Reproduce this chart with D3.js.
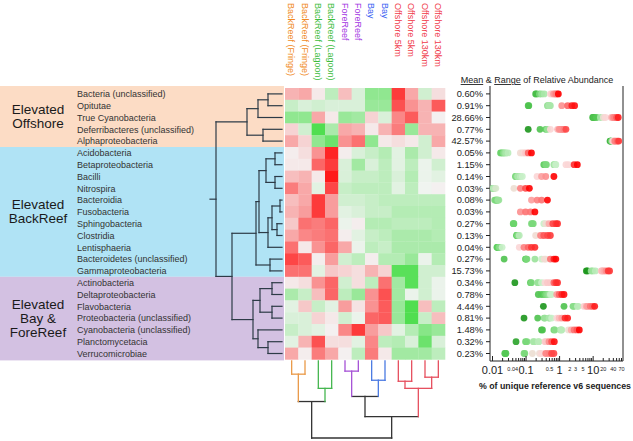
<!DOCTYPE html>
<html lang="en">
<head>
<meta charset="UTF-8">
<title>Elevated taxa heatmap</title>
<script src="https://cdn.jsdelivr.net/npm/d3@7"></script>
<style>
  body { margin: 0; background: #fff; }
  svg text { font-family: "Liberation Sans", Arial, sans-serif; }
</style>
</head>
<body>
<script>
// sample columns, left to right
var samples = ["BackReef (Fringe)", "BackReef (Fringe)", "BackReef (Lagoon)", "BackReef (Lagoon)",
  "ForeReef", "ForeReef", "Bay", "Bay", "Offshore 5km", "Offshore 5km", "Offshore 130km", "Offshore 130km"];

var taxa = ["Bacteria (unclassified)", "Opitutae", "True Cyanobacteria", "Deferribacteres (unclassified)",
  "Alphaproteobacteria", "Acidobacteria", "Betaproteobacteria", "Bacilli", "Nitrospira", "Bacteroidia",
  "Fusobacteria", "Sphingobacteria", "Clostridia", "Lentisphaeria", "Bacteroidetes (unclassified)",
  "Gammaproteobacteria", "Actinobacteria", "Deltaproteobacteria", "Flavobacteria",
  "Proteobacteria (unclassified)", "Cyanobacteria (unclassified)", "Planctomycetacia", "Verrucomicrobiae"];

var groupNames = [["Elevated", "Offshore"], ["Elevated", "BackReef"], ["Elevated", "Bay &", "ForeReef"]];
var groupSizes = [5, 11, 7];

// mean relative abundance (%)
var meanAbundance = [0.60, 0.91, 28.66, 0.77, 42.57, 0.05, 1.15, 0.14, 0.03, 0.08, 0.03, 0.27,
  0.13, 0.04, 0.27, 15.73, 0.34, 0.78, 4.44, 0.81, 1.48, 0.32, 0.23];

// relative enrichment per sample (-1 green .. +1 red)
var heat = [
  [0.3, 0.35, 0.05, -0.3, 0.25, -0.15, -0.55, -0.55, 0.85, 0.35, -0.2, 0.1],
  [-0.25, -0.15, -0.2, -0.15, -0.15, -0.15, -0.5, -0.5, 0.75, 0.45, 0.3, 0.7],
  [-0.55, -0.55, 0.35, 0.05, -0.5, -0.45, 0.15, -0.15, 0.5, 0.7, 0.3, 0.02],
  [0.15, -0.2, -0.9, -0.4, 0.35, 0.3, 0.05, 0.3, 0.55, -0.5, 0.3, 0.3],
  [0.35, 0.15, -0.55, -0.75, 0.45, 0.6, -0.55, 0.05, 0.1, 0.05, -0.2, 0.35],
  [0.03, 0.1, 0.45, 0.95, 0.03, -0.15, -0.25, -0.35, -0.1, -0.4, -0.2, 0.05],
  [0.05, 0.05, 0.65, 0.85, -0.15, -0.45, -0.15, -0.3, -0.1, -0.3, -0.05, -0.2],
  [0.25, 0.3, 0.05, 1.0, -0.15, -0.25, -0.25, -0.3, -0.15, -0.35, -0.05, -0.1],
  [0.55, 0.35, -0.1, 0.8, -0.25, -0.3, -0.3, -0.3, -0.1, -0.3, -0.02, 0.02],
  [0.25, 0.35, 0.85, 0.4, -0.2, -0.2, -0.25, -0.3, -0.3, -0.3, -0.3, -0.3],
  [0.3, 0.4, 0.85, 0.4, -0.1, -0.15, -0.25, -0.25, -0.35, -0.35, -0.35, -0.35],
  [0.2, 0.6, 0.55, 0.65, -0.05, 0.03, -0.35, -0.35, -0.3, -0.3, -0.3, -0.35],
  [0.35, 0.5, 0.55, 0.6, 0.03, -0.1, -0.25, -0.3, -0.4, -0.4, -0.4, -0.35],
  [0.6, 0.05, 0.45, 0.65, 0.35, -0.05, -0.3, -0.25, -0.4, -0.4, -0.4, -0.4],
  [0.8, 0.7, 0.03, 0.4, -0.2, -0.3, 0.03, -0.35, -0.35, -0.5, -0.05, -0.35],
  [0.6, 0.6, -0.1, 0.2, 0.15, 0.1, 0.3, 0.15, -0.85, -0.85, -0.2, -0.2],
  [0.05, 0.1, 0.45, 0.65, -0.2, 0.1, -0.3, 0.6, -0.45, -0.85, -0.2, -0.05],
  [-0.4, -0.25, 0.25, 0.65, -0.3, -0.5, 0.45, 0.75, -0.45, -0.05, -0.2, -0.05],
  [-0.1, 0.2, -0.25, -0.1, 0.4, 0.08, 0.45, 0.7, -0.5, -0.9, 0.25, -0.3],
  [-0.15, -0.15, 0.15, 0.05, -0.2, -0.05, 0.65, 0.7, -0.5, -0.9, -0.25, 0.25],
  [-0.25, -0.15, -0.1, 0.02, 0.5, 0.85, 0.4, 0.2, -0.1, -0.35, -0.6, -0.5],
  [-0.1, 0.3, 0.75, 0.1, 0.1, -0.1, 0.5, -0.3, -0.35, -0.15, -0.75, -0.15],
  [0.35, 0.03, 0.55, 0.35, 0.02, -0.3, 0.55, 0.05, -0.45, -0.45, -0.45, -0.3]
];

// per-sample abundance (%), ascending; paired with samples by enrichment rank
var sampleAbundance = [
  [0.2, 0.21, 0.26, 0.3, 0.36, 0.55, 0.6, 0.68, 0.75, 0.82, 0.88, 0.95],
  [0.12, 0.125, 0.45, 0.47, 0.5, 0.5, 0.52, 0.55, 1.2, 1.8, 2.4, 2.9],
  [10, 10.5, 11, 13, 17, 21, 24, 36, 40, 45, 52, 58],
  [0.12, 0.27, 0.4, 0.45, 0.55, 0.9, 1.0, 1.1, 1.2, 1.3, 1.4, 1.6],
  [33, 34, 35, 37, 40, 41, 42, 44, 46, 50, 55, 60],
  [0.018, 0.02, 0.022, 0.024, 0.026, 0.03, 0.07, 0.08, 0.09, 0.1, 0.12, 0.15],
  [0.35, 0.4, 0.42, 0.7, 0.72, 0.75, 0.78, 0.8, 1.6, 1.9, 2.8, 3.5],
  [0.05, 0.052, 0.054, 0.056, 0.058, 0.06, 0.07, 0.08, 0.22, 0.3, 0.4, 0.7],
  [0.011, 0.011, 0.011, 0.011, 0.011, 0.011, 0.012, 0.013, 0.045, 0.07, 0.1, 0.13],
  [0.012, 0.013, 0.013, 0.014, 0.014, 0.015, 0.015, 0.016, 0.15, 0.22, 0.3, 0.45],
  [0.008, 0.008, 0.008, 0.008, 0.009, 0.009, 0.009, 0.009, 0.07, 0.1, 0.14, 0.19],
  [0.043, 0.044, 0.045, 0.15, 0.16, 0.17, 0.35, 0.4, 0.5, 0.65, 0.8, 0.9],
  [0.054, 0.055, 0.056, 0.057, 0.058, 0.06, 0.065, 0.2, 0.28, 0.35, 0.45, 0.55],
  [0.014, 0.0145, 0.015, 0.015, 0.016, 0.017, 0.02, 0.065, 0.09, 0.12, 0.15, 0.19],
  [0.023, 0.1, 0.1, 0.105, 0.11, 0.19, 0.3, 0.36, 0.4, 0.55, 0.7, 0.8],
  [6.5, 7, 9, 10, 12, 18, 19, 20, 22, 25, 29, 32],
  [0.048, 0.14, 0.15, 0.23, 0.24, 0.3, 0.38, 0.45, 0.55, 0.7, 0.8, 0.9],
  [0.24, 0.3, 0.36, 0.4, 0.45, 0.5, 0.55, 0.6, 0.85, 1.0, 1.2, 1.4],
  [0.34, 1.4, 2.6, 2.8, 3.5, 3.7, 5.5, 6.5, 7, 8.5, 10, 11.5],
  [0.09, 0.23, 0.36, 0.38, 0.5, 0.52, 0.6, 0.85, 1.0, 1.2, 1.5, 1.8],
  [0.3, 0.32, 0.7, 0.75, 1.1, 1.15, 1.2, 1.9, 2.3, 2.8, 3.4, 4.0],
  [0.052, 0.1, 0.11, 0.17, 0.18, 0.24, 0.25, 0.38, 0.42, 0.5, 0.6, 0.72],
  [0.024, 0.025, 0.026, 0.09, 0.095, 0.16, 0.26, 0.3, 0.4, 0.5, 0.6, 0.7]
];

// dendrograms: [height, childA, childB], leaves are indices
var rowTree = [66,
  [35, [24, [14, 0, 1], 2], [19, 3, 4]],
  [50,
    [26, [23, [16, [7, 5, 6], [7, 7, 8]], [14, [10, [2, 9, 10], [5, 11, 12]], 13]], [12, 14, 15]],
    [29, [22, [10, 16, 17], [10, 18, 19]], [24, 20, [14, 21, 22]]]]];
var colTree = [76, [40, [13, 0, 1], [27, 2, 3]],
  [55, [35, [10, 4, 5], [19, 6, 7]], [27, [20, 8, 9], [16, 10, 11]]]];

var minorTickLabels = [0.04, 0.5, 2, 3, 5, 20, 40, 70];

// ---------------------------------------------------------------
var W = 633, H = 441;
var svg = d3.select("body").append("svg").attr("width", W).attr("height", H);
svg.append("rect").attr("width", W).attr("height", H).attr("fill", "#fff");

var x = d3.scaleBand().domain(d3.range(samples.length)).range([285, 445]);
var y = d3.scaleBand().domain(d3.range(taxa.length)).range([88, 359.4]);
var cx = function(i) { return x(i) + x.bandwidth() / 2; };
var cy = function(i) { return y(i) + y.bandwidth() / 2; };

var siteKey = function(s) { return s.indexOf("Offshore") === 0 ? "Offshore" : s; };
var labelColor = {"BackReef (Fringe)": "#f08a24", "BackReef (Lagoon)": "#3cbc3c", "ForeReef": "#a234e2",
  "Bay": "#3a5ff2", "Offshore": "#f03a4a"};
var treeColor = {"BackReef (Fringe)": "#ea9a48", "BackReef (Lagoon)": "#46b650", "ForeReef": "#a653d6",
  "Bay": "#4b7ae2", "Offshore": "#e6505f"};
var bandColors = ["#fcdcc5", "#b0e3f5", "#d3c1e2"];

var heatColor = d3.scaleLinear().domain([-1, 0, 1]).range(["#3edc3e", "#f4f4f4", "#ff1a1a"]).clamp(true);
var dotColor = d3.scaleLinear().domain([-0.85, -0.4, -0.05, 0.05, 0.8])
  .range(["#1c961c", "#5ccf5c", "#c8f0c8", "#fbd6d6", "#ff0000"]).clamp(true);

// group bands
var starts = d3.cumsum([0].concat(groupSizes));
var bands = svg.append("g");
groupSizes.forEach(function(n, g) {
  var top = y(starts[g]) - (g === 0 ? 2 : 0);
  var bottom = y(starts[g] + n - 1) + y.bandwidth() + (g === groupSizes.length - 1 ? 1 : 0);
  bands.append("rect").attr("x", 0).attr("y", top).attr("width", 284).attr("height", bottom - top)
    .attr("fill", bandColors[g]);
  var mid = (top + bottom) / 2, lines = groupNames[g];
  bands.append("text").attr("x", 38).attr("text-anchor", "middle")
    .attr("font-size", 13.5).attr("fill", "#1a1a1a")
    .selectAll("tspan").data(lines).join("tspan")
    .attr("x", 38)
    .attr("y", function(d, i) { return mid + (i - (lines.length - 1) / 2) * 14 + 4.5; })
    .text(function(d) { return d; });
});

// row labels
svg.append("g").selectAll("text").data(taxa).join("text")
  .attr("x", 77).attr("y", function(d, i) { return cy(i) + 3.2; })
  .attr("font-size", 9).attr("fill", "#333")
  .text(function(d) { return d; });

// heatmap
svg.append("g").selectAll("g").data(heat).join("g")
  .each(function(row, r) {
    d3.select(this).selectAll("rect").data(row).join("rect")
      .attr("x", function(d, c) { return x(c); })
      .attr("y", y(r))
      .attr("width", x.bandwidth() + 0.3)
      .attr("height", y.bandwidth() + 0.3)
      .attr("fill", function(d) { return heatColor(d); });
  });

// column labels
svg.append("g").selectAll("text").data(samples).join("text")
  .attr("transform", function(d, i) { return "translate(" + (cx(i) - 3.2) + ",3) rotate(90)"; })
  .attr("font-size", 9).attr("fill", function(d) { return labelColor[siteKey(d)]; })
  .text(function(d) { return d; });

// dendrogram layout
function layout(node, leafPos) {
  if (typeof node === "number") return {pos: leafPos(node), h: 0, leaves: [node]};
  var kids = node.slice(1).map(function(k) { return layout(k, leafPos); });
  return {pos: (kids[0].pos + kids[kids.length - 1].pos) / 2, h: node[0], kids: kids,
    leaves: [].concat.apply([], kids.map(function(k) { return k.leaves; }))};
}
function segments(n, out) {
  if (!n.kids) return out;
  out.push({node: n, a: [n.kids[0].pos, n.h], b: [n.kids[n.kids.length - 1].pos, n.h]});
  n.kids.forEach(function(k) {
    out.push({node: k, a: [k.pos, k.h], b: [k.pos, n.h]});
    segments(k, out);
  });
  return out;
}

// row dendrogram
var rowRoot = layout(rowTree, cy);
var hx = d3.scaleLinear().domain([0, 72]).range([282, 210]);
var rowSegs = segments(rowRoot, []);
rowSegs.push({node: rowRoot, a: [rowRoot.pos, rowRoot.h], b: [rowRoot.pos, 72]});
svg.append("g").selectAll("line").data(rowSegs).join("line")
  .attr("x1", function(d) { return hx(d.a[1]); }).attr("x2", function(d) { return hx(d.b[1]); })
  .attr("y1", function(d) { return d.a[0]; }).attr("y2", function(d) { return d.b[0]; })
  .attr("stroke", "#2d3b47").attr("stroke-width", 1.2).attr("stroke-linecap", "square");

// column dendrogram
var colRoot = layout(colTree, cx);
var hy = d3.scaleLinear().domain([0, 76]).range([361, 438]);
function nodeColor(n) {
  var keys = d3.group(n.leaves, function(i) { return siteKey(samples[i]); });
  return keys.size === 1 ? treeColor[keys.keys().next().value] : "#333";
}
svg.append("g").selectAll("line").data(segments(colRoot, [])).join("line")
  .attr("x1", function(d) { return d.a[0]; }).attr("x2", function(d) { return d.b[0]; })
  .attr("y1", function(d) { return hy(d.a[1]); }).attr("y2", function(d) { return hy(d.b[1]); })
  .attr("stroke", function(d) { return nodeColor(d.node); })
  .attr("stroke-width", 1.3).attr("stroke-linecap", "square");

// dot plot
var xl = d3.scaleLog().domain([0.01, 70]).range([492, 621]);
var frameL = 490, frameR = 623, frameT = 86, frameB = 361;
var dp = svg.append("g");

dp.append("text").attr("x", 537).attr("y", 83).attr("text-anchor", "middle")
  .attr("font-size", 9).attr("fill", "#222")
  .call(function(t) {
    t.append("tspan").style("text-decoration", "underline").text("Mean");
    t.append("tspan").text(" & ");
    t.append("tspan").style("text-decoration", "underline").text("Range");
    t.append("tspan").text(" of Relative Abundance");
  });

dp.append("path")
  .attr("d", "M" + frameL + "," + frameT + "V" + frameB + "H" + frameR + "V" + frameT)
  .attr("fill", "none").attr("stroke", "#222").attr("stroke-width", 1);

dp.append("g").selectAll("line").data(taxa).join("line")
  .attr("x1", frameL - 4).attr("x2", frameL)
  .attr("y1", function(d, i) { return cy(i); }).attr("y2", function(d, i) { return cy(i); })
  .attr("stroke", "#222");

dp.append("g").selectAll("text").data(meanAbundance).join("text")
  .attr("x", 483).attr("y", function(d, i) { return cy(i) + 3.3; })
  .attr("text-anchor", "end").attr("font-size", 9.3).attr("fill", "#222")
  .text(function(d) { return d.toFixed(2) + "%"; });

var dots = [];
sampleAbundance.forEach(function(vals, r) {
  var order = d3.range(samples.length).sort(function(a, b) { return heat[r][a] - heat[r][b]; });
  vals.forEach(function(v, k) {
    if (v >= 0.01) dots.push({r: r, v: v, h: heat[r][order[k]]});
  });
});
dp.append("g").selectAll("circle").data(dots).join("circle")
  .attr("cx", function(d) { return xl(d.v); })
  .attr("cy", function(d) { return cy(d.r); })
  .attr("r", 3.4)
  .attr("fill", function(d) { return dotColor(d.h); })
  .attr("fill-opacity", 0.9);

// bottom log axis
var majors = [0.01, 0.1, 1, 10];
var minors = xl.ticks().filter(function(t) { return majors.indexOf(t) < 0; });
var axisG = dp.append("g").attr("transform", "translate(0," + frameB + ")");
axisG.call(d3.axisBottom(xl).tickValues(minors).tickSize(-3)
  .tickFormat(function(d) { return minorTickLabels.indexOf(d) >= 0 ? d3.format("~g")(d) : ""; }))
  .call(function(g) { g.select(".domain").remove(); g.selectAll("text").attr("font-size", 5.5).attr("dy", "1.3em"); });
var axisM = dp.append("g").attr("transform", "translate(0," + frameB + ")");
axisM.call(d3.axisBottom(xl).tickValues(majors).tickSize(-5).tickFormat(d3.format("~g")))
  .call(function(g) { g.select(".domain").remove(); g.selectAll("text").attr("font-size", 11).attr("dy", "0.95em"); });
dp.selectAll(".tick line").attr("stroke", "#222");
dp.selectAll(".tick text").attr("fill", "#222");

dp.append("text").attr("x", 555).attr("y", 389).attr("text-anchor", "middle")
  .attr("font-size", 8.8).attr("font-weight", "bold").attr("fill", "#222")
  .text("% of unique reference v6 sequences");
</script>
</body>
</html>
